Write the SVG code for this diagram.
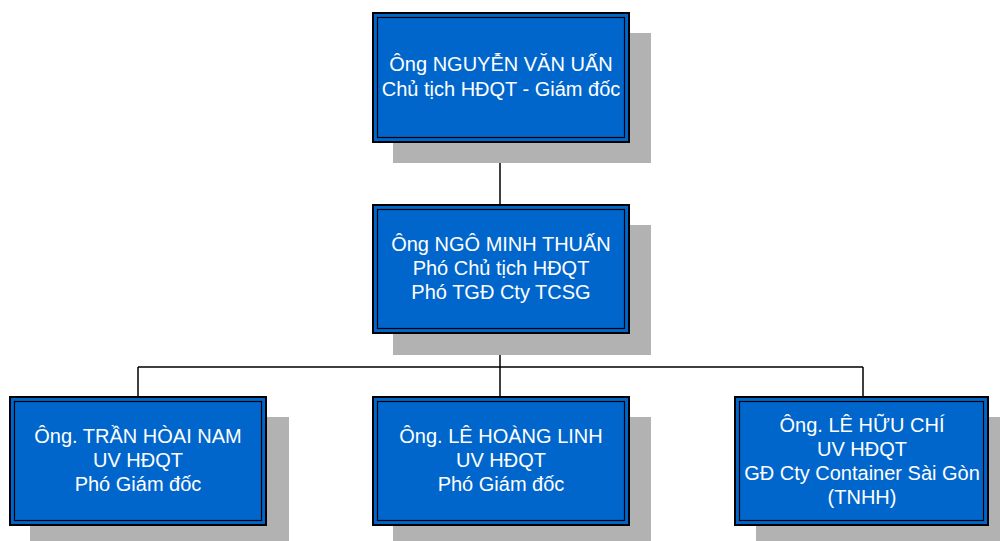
<svg xmlns="http://www.w3.org/2000/svg" width="1000" height="541" viewBox="0 0 1000 541">
<style>
.sh{fill:#B2B2B2}
.bx{fill:#0066CC;stroke:#000;stroke-width:2}
.in{fill:none;stroke:#000;stroke-width:1.2}
.t{font-family:"Liberation Sans",Arial,sans-serif;font-size:20px;fill:#fff;text-anchor:middle}
.c{fill:none;stroke:#000;stroke-width:1.5}
</style>
<rect width="1000" height="541" fill="#fff"/>
<g id="connectors">
<path class="c" d="M500 142V204M500 333V367M138 367H863M138 367V396M500 367V396M863 367V396"/>
</g>
<g id="n1">
<rect class="sh" x="393" y="33" width="258" height="130"/>
<rect class="bx" x="373" y="13" width="256" height="129"/>
<rect class="in" x="377.5" y="17.5" width="247" height="120"/>
<text class="t" x="501" y="71">Ông NGUYỄN VĂN UẤN</text>
<text class="t" x="501" y="96">Chủ tịch HĐQT - Giám đốc</text>
</g>
<g id="n2">
<rect class="sh" x="393" y="225" width="258" height="130"/>
<rect class="bx" x="373" y="205" width="256" height="128"/>
<rect class="in" x="377.5" y="209.5" width="247" height="119"/>
<text class="t" x="501" y="251">Ông NGÔ MINH THUẤN</text>
<text class="t" x="501" y="275">Phó Chủ tịch HĐQT</text>
<text class="t" x="501" y="299">Phó TGĐ Cty TCSG</text>
</g>
<g id="n3">
<rect class="sh" x="30" y="417" width="259" height="124"/>
<rect class="bx" x="10" y="397" width="256" height="128"/>
<rect class="in" x="14.5" y="401.5" width="247" height="119"/>
<text class="t" x="138" y="443">Ông. TRẦN HÒAI NAM</text>
<text class="t" x="138" y="467">UV HĐQT</text>
<text class="t" x="138" y="491">Phó Giám đốc</text>
</g>
<g id="n4">
<rect class="sh" x="393" y="417" width="258" height="124"/>
<rect class="bx" x="373" y="397" width="256" height="128"/>
<rect class="in" x="377.5" y="401.5" width="247" height="119"/>
<text class="t" x="501" y="443">Ông. LÊ HOÀNG LINH</text>
<text class="t" x="501" y="467">UV HĐQT</text>
<text class="t" x="501" y="491">Phó Giám đốc</text>
</g>
<g id="n5">
<rect class="sh" x="756" y="417" width="244" height="124"/>
<rect class="bx" x="735" y="397" width="253" height="128"/>
<rect class="in" x="739.5" y="401.5" width="244" height="119"/>
<text class="t" x="862" y="432">Ông. LÊ HỮU CHÍ</text>
<text class="t" x="862" y="456">UV HĐQT</text>
<text class="t" x="862" y="480">GĐ Cty Container Sài Gòn</text>
<text class="t" x="862" y="504">(TNHH)</text>
</g>
</svg>
